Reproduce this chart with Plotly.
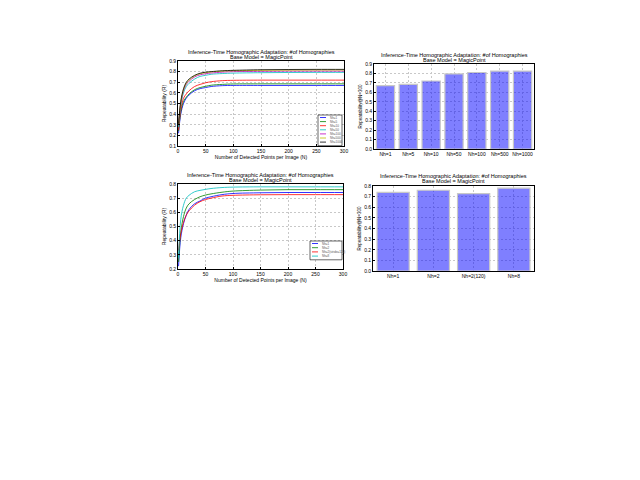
import plotly.graph_objects as go

# Datos
X_N = [1, 5, 10, 15, 20, 30, 40, 50, 60, 80, 100, 150, 200, 250, 300]

TOP_LABELS = ["Nh=1", "Nh=5", "Nh=10", "Nh=50", "Nh=100", "Nh=500", "Nh=1000"]
TOP_COLORS = ["#0000ff", "#008000", "#ff0000", "#00bfbf", "#bf00bf", "#bfbf00", "#000000"]
TOP_CURVES = [
    [0.22, 0.40, 0.50, 0.55, 0.58, 0.62, 0.64, 0.65, 0.66, 0.668, 0.670, 0.670, 0.670, 0.670, 0.670],
    [0.24, 0.42, 0.52, 0.56, 0.59, 0.63, 0.65, 0.662, 0.672, 0.680, 0.684, 0.685, 0.685, 0.685, 0.685],
    [0.25, 0.44, 0.55, 0.59, 0.62, 0.66, 0.68, 0.695, 0.705, 0.715, 0.718, 0.720, 0.720, 0.720, 0.720],
    [0.28, 0.48, 0.60, 0.66, 0.69, 0.73, 0.755, 0.765, 0.775, 0.782, 0.786, 0.790, 0.792, 0.793, 0.793],
    [0.30, 0.50, 0.62, 0.68, 0.71, 0.75, 0.77, 0.78, 0.787, 0.795, 0.800, 0.803, 0.805, 0.805, 0.805],
    [0.30, 0.51, 0.63, 0.69, 0.72, 0.76, 0.78, 0.79, 0.797, 0.805, 0.808, 0.812, 0.814, 0.815, 0.815],
    [0.31, 0.52, 0.64, 0.70, 0.73, 0.765, 0.785, 0.795, 0.800, 0.808, 0.812, 0.818, 0.820, 0.821, 0.821],
]
TOP_BARS = [0.670, 0.685, 0.720, 0.795, 0.810, 0.825, 0.825]

BOT_LABELS = ["Nh=1", "Nh=2", "Nh=2(stride=120)", "Nh=8"]
BOT_BAR_LABELS = ["Nh=1", "Nh=2", "Nh=2(120)", "Nh=8"]
BOT_COLORS = ["#0000ff", "#008000", "#ff0000", "#00bfbf"]
BOT_CURVES = [
    [0.22, 0.42, 0.52, 0.58, 0.62, 0.66, 0.68, 0.70, 0.71, 0.725, 0.733, 0.738, 0.740, 0.740, 0.740],
    [0.25, 0.46, 0.57, 0.63, 0.66, 0.69, 0.71, 0.722, 0.73, 0.742, 0.750, 0.757, 0.760, 0.760, 0.760],
    [0.33, 0.45, 0.53, 0.58, 0.61, 0.65, 0.675, 0.69, 0.70, 0.715, 0.720, 0.724, 0.725, 0.725, 0.725],
    [0.28, 0.55, 0.65, 0.70, 0.72, 0.745, 0.755, 0.762, 0.768, 0.775, 0.778, 0.780, 0.780, 0.780, 0.780],
]
BOT_BARS = [0.740, 0.760, 0.728, 0.780]

TITLE_1 = "Inference-Time Homographic Adaptation: #of Homographies"
TITLE_2 = "Base Model = MagicPoint"
FONT = "Liberation Sans, Arial, sans-serif"
W, H = 640, 480
OFF = 8  # margen del body html


def px_x(a, b):
    return [(a - OFF) / W, (b - OFF) / W]


def px_y(top, bottom):
    return [1 - (bottom - OFF) / H, 1 - (top - OFF) / H]


def fx(a):
    return (a - OFF) / W


def fy(a):
    return 1 - (a - OFF) / H


AXIS_BASE = dict(
    showline=True, linecolor="black", linewidth=0.8, mirror=True,
    showgrid=True, gridcolor="#c8c8c8", griddash="2px,2px", gridwidth=0.5,
    zeroline=False, ticks="inside", ticklen=2, tickcolor="black",
    tickfont=dict(size=5, family=FONT, color="black"), automargin=False,
)

fig = go.Figure()

for lab, col, ys in zip(TOP_LABELS, TOP_COLORS, TOP_CURVES):
    fig.add_trace(go.Scatter(x=X_N, y=ys, mode="lines", name=lab,
                             line=dict(color=col, width=0.8, shape="spline"),
                             xaxis="x", yaxis="y"))

fig.add_trace(go.Bar(x=TOP_LABELS, y=TOP_BARS, xaxis="x2", yaxis="y2",
                     width=0.8, marker=dict(color="rgba(0,0,255,0.5)",
                                            line=dict(color="#c8c8c8", width=1.2))))

for lab, col, ys in zip(BOT_LABELS, BOT_COLORS, BOT_CURVES):
    fig.add_trace(go.Scatter(x=X_N, y=ys, mode="lines", name=lab,
                             line=dict(color=col, width=0.8, shape="spline"),
                             xaxis="x3", yaxis="y3"))

fig.add_trace(go.Bar(x=BOT_BAR_LABELS, y=BOT_BARS, xaxis="x4", yaxis="y4",
                     width=0.8, marker=dict(color="rgba(0,0,255,0.5)",
                                            line=dict(color="#c8c8c8", width=1.2))))

fig.update_layout(
    width=W, height=H, margin=dict(l=0, r=0, t=0, b=0),
    paper_bgcolor="white", plot_bgcolor="white",
    font=dict(family=FONT, color="black"),
    showlegend=False,
    xaxis=dict(AXIS_BASE, domain=px_x(178, 344), range=[0, 300], dtick=50, anchor="y",
               title=dict(text="Number of Detected Points per Image (N)",
                          font=dict(size=5), standoff=1)),
    yaxis=dict(AXIS_BASE, domain=px_y(61, 146), range=[0.1, 0.9], dtick=0.1, anchor="x",
               title=dict(text="Repeatability (R)", font=dict(size=5), standoff=2)),
    xaxis2=dict(AXIS_BASE, domain=px_x(374, 534), anchor="y2", ticks=""),
    yaxis2=dict(AXIS_BASE, domain=px_y(64, 149), range=[0, 0.9], dtick=0.1, anchor="x2",
                tickformat=".1f",
                title=dict(text="Repeatability@N=300", font=dict(size=4.5), standoff=2)),
    xaxis3=dict(AXIS_BASE, domain=px_x(178, 343), range=[0, 300], dtick=50, anchor="y3",
                title=dict(text="Number of Detected Points per Image (N)",
                           font=dict(size=5), standoff=1)),
    yaxis3=dict(AXIS_BASE, domain=px_y(184, 269), range=[0.2, 0.8], dtick=0.1, anchor="x3",
                title=dict(text="Repeatability (R)", font=dict(size=5), standoff=2)),
    xaxis4=dict(AXIS_BASE, domain=px_x(373, 534), anchor="y4", ticks=""),
    yaxis4=dict(AXIS_BASE, domain=px_y(186, 271), range=[0, 0.8], dtick=0.1, anchor="x4",
                tickformat=".1f",
                title=dict(text="Repeatability@N=300", font=dict(size=4.5), standoff=2)),
)

titles = [((178 + 344) / 2, 52), ((374 + 534) / 2, 55), ((178 + 343) / 2, 175), ((373 + 534) / 2, 176)]
for cx, cy in titles:
    for k, line in enumerate([TITLE_1, TITLE_2]):
        fig.add_annotation(text=line, x=fx(cx), y=fy(cy + 5 * k), xref="paper", yref="paper",
                           showarrow=False, font=dict(size=5.5, family=FONT, color="black"),
                           xanchor="center", yanchor="middle")


# Leyendas dibujadas a mano (la leyenda nativa es demasiado grande a esta escala)
def small_legend(labels, colors, left, top, right, step):
    bottom = top + step * len(labels) + 2
    fig.add_shape(type="rect", xref="paper", yref="paper",
                  x0=fx(left), x1=fx(right), y0=fy(bottom), y1=fy(top),
                  line=dict(color="black", width=0.6), fillcolor="white", layer="above")
    for i, (lab, col) in enumerate(zip(labels, colors)):
        yy = top + 2.5 + step * i
        fig.add_shape(type="line", xref="paper", yref="paper",
                      x0=fx(left + 2), x1=fx(left + 8), y0=fy(yy), y1=fy(yy),
                      line=dict(color=col, width=0.8), layer="above")
        fig.add_annotation(text=lab, x=fx(left + 9.5), y=fy(yy), xref="paper",
                           yref="paper", showarrow=False, xanchor="left", yanchor="middle",
                           font=dict(size=3, family=FONT, color="#555555"))


small_legend(TOP_LABELS, TOP_COLORS, 318, 115, 342, 4.1)
small_legend(BOT_LABELS, BOT_COLORS, 310, 241, 342, 4.2)

fig.write_html("out.html")
